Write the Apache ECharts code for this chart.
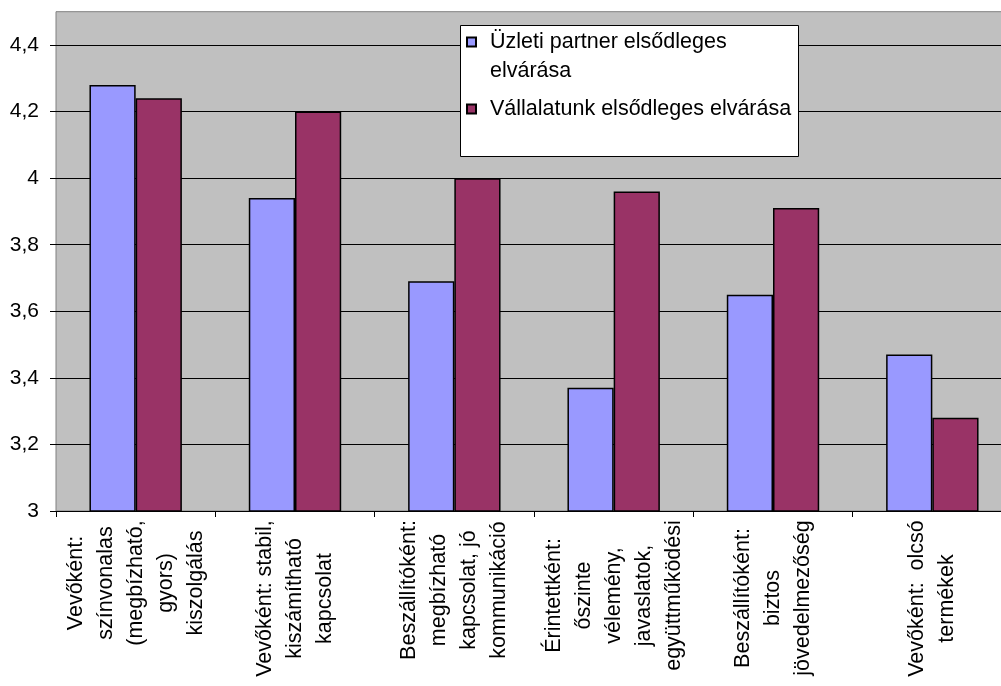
<!DOCTYPE html>
<html>
<head>
<meta charset="utf-8">
<script src="https://cdn.jsdelivr.net/npm/echarts@6/dist/echarts.min.js"></script>
<style>
html,body{margin:0;padding:0;background:#fff;}
#chart{width:1001px;height:686px;}
</style>
</head>
<body>
<div id="chart"></div>
<script>
const categories = [
  "Vevőként:\nszínvonalas\n(megbízható,\ngyors)\nkiszolgálás",
  "Vevőként: stabil,\nkiszámítható\nkapcsolat",
  "Beszállítóként:\nmegbízható\nkapcsolat, jó\nkommunikáció",
  "Érintettként:\nőszinte\nvélemény,\njavaslatok,\negyüttműködési",
  "Beszállítóként:\nbiztos\njövedelmezőség",
  "Vevőként:  olcsó\ntermékek"
];
const seriesNames = ["Üzleti partner elsődleges elvárása", "Vállalatunk elsődleges elvárása"];
const partnerValues = [4.28, 3.94, 3.69, 3.37, 3.65, 3.47];
const companyValues = [4.24, 4.20, 4.00, 3.96, 3.91, 3.28];
const yTicks = [3, 3.2, 3.4, 3.6, 3.8, 4, 4.2, 4.4];

const FONT = 'Liberation Sans';
const catFontSize = 21.5;
const ctx = document.createElement('canvas').getContext('2d');
ctx.font = catFontSize + 'px "' + FONT + '"';
const rich = {};
categories.forEach((c, i) => {
  const w = Math.max.apply(null, c.split('\n').map(l => ctx.measureText(l).width));
  rich['c' + i] = {width: Math.ceil(w) + 2, align: 'center', fontSize: catFontSize, lineHeight: 30, fontFamily: FONT, color: '#000'};
});

const chart = echarts.init(document.getElementById('chart'));
chart.setOption({
  animation: false,
  backgroundColor: '#fff',
  textStyle: {fontFamily: FONT, color: '#000'},
  grid: {left: 56, right: -11, top: 11.7, bottom: 175, outerBoundsMode: 'none', containLabel: false, show: true, backgroundColor: '#C0C0C0', borderColor: '#808080', borderWidth: 1},
  graphic: [{
    type: 'rect', z: 3,
    shape: {x: 460.5, y: 25.5, width: 338, height: 131},
    style: {fill: '#fff', stroke: '#000', lineWidth: 1}
  }],
  legend: {
    orient: 'vertical',
    left: 466, top: -1.5,
    padding: 0,
    itemGap: 9,
    itemWidth: 9, itemHeight: 9,
    icon: 'rect',
    z: 5,
    data: [
      {name: seriesNames[0]},
      {name: seriesNames[1]}
    ],
    formatter: function (name) {
      return name === seriesNames[0] ? '\u200b\nÜzleti partner elsődleges\nelvárása' : name;
    },
    textStyle: {fontSize: 21.5, lineHeight: 29, fontFamily: FONT, color: '#000', padding: [0, 0, 0, 9]}
  },
  xAxis: {
    type: 'category',
    data: categories,
    axisLine: {show: true, lineStyle: {color: '#000', width: 1}},
    axisTick: {show: true, length: 6, lineStyle: {color: '#000'}},
    axisLabel: {
      interval: 0, rotate: 90, margin: 8,
      formatter: function (v, i) {
        return v.split('\n').map(l => '{c' + i + '|' + l + '}').join('\n');
      },
      rich: rich
    }
  },
  yAxis: {
    type: 'value',
    min: 3, max: 4.5, interval: 0.2,
    axisLine: {show: false},
    axisTick: {show: true, length: 6, lineStyle: {color: '#000'}, customValues: yTicks},
    axisLabel: {
      margin: 17, fontSize: 21, color: '#000', fontFamily: FONT,
      customValues: yTicks,
      formatter: function (v) { return String(+(+v).toFixed(1)).replace('.', ','); }
    },
    splitLine: {show: true, lineStyle: {color: '#000', width: 1}}
  },
  series: [
    {
      name: seriesNames[0], type: 'bar', data: partnerValues,
      barGap: '0%', barCategoryGap: '42%',
      itemStyle: {color: '#9999FF', borderColor: '#000', borderWidth: 1.5}
    },
    {
      name: seriesNames[1], type: 'bar', data: companyValues,
      itemStyle: {color: '#993366', borderColor: '#000', borderWidth: 1.5}
    }
  ]
});
</script>
</body>
</html>
